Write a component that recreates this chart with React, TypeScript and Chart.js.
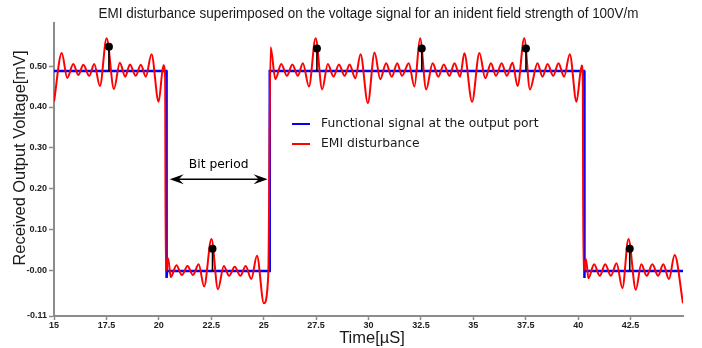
import React, { useEffect, useRef } from "react";
import { Chart, registerables } from "chart.js";

Chart.register(...registerables);

const TITLE = "EMI disturbance superimposed on the voltage signal for an inident field strength of 100V/m";
const X_TITLE = "Time[\u00B5S]";
const Y_TITLE = "Received Output Voltage[mV]";
const LEGEND_LABELS = ["Functional signal at the output port", "EMI disturbance"];
const BIT_LABEL = "Bit period";

const xTicks = [15, 17.5, 20, 22.5, 25, 27.5, 30, 32.5, 35, 37.5, 40, 42.5];
const xTickLabels = ["15", "17.5", "20", "22.5", "25", "27.5", "30", "32.5", "35", "37.5", "40", "42.5"];
const yTicks = [-0.11, 0, 0.1, 0.2, 0.3, 0.4, 0.5];
const yTickLabels = ["-0.11", "-0.00", "0.10", "0.20", "0.30", "0.40", "0.50"];

// Functional (blue) signal
const signalTime = [15, 20.36, 20.37, 20.39, 25.27, 25.29, 40.28, 40.29, 40.31, 45];
const signalVoltage = [0.488, 0.488, -0.017, 0, 0, 0.488, 0.488, -0.017, 0, 0];

// EMI disturbance (red), extrema
const emiTime = [
  15.0, 15.37, 15.63, 15.92, 16.16, 16.4, 16.68, 16.92, 17.19, 17.51, 17.86, 18.14, 18.4, 18.62, 18.9, 19.14, 19.38, 19.65, 19.99, 20.22, 20.3, 20.33,
  20.44, 20.57, 20.84, 21.1, 21.37, 21.63, 21.9, 22.16, 22.51, 22.82, 23.1, 23.35, 23.62, 23.89, 24.14, 24.41, 24.68, 25.01, 25.22, 25.33,
  25.56, 25.84, 26.11, 26.37, 26.63, 26.87, 27.16, 27.48, 27.79, 28.06, 28.33, 28.59, 28.86, 29.1, 29.37, 29.62, 29.97, 30.29,
  30.56, 30.84, 31.11, 31.37, 31.6, 31.92, 32.19, 32.46, 32.75, 33.06, 33.33, 33.59, 33.86, 34.1, 34.37, 34.57, 34.94, 35.29,
  35.57, 35.84, 36.08, 36.35, 36.6, 36.87, 37.11, 37.43, 37.7, 38.06, 38.3, 38.54, 38.81, 39.06, 39.33, 39.6, 39.92, 40.17, 40.22, 40.25,
  40.37, 40.49, 40.76, 41.03, 41.29, 41.56, 41.83, 42.11, 42.4, 42.75, 43.01, 43.27, 43.54, 43.81, 44.06, 44.33, 44.6, 45.0,
];
const emiVoltage = [
  0.413, 0.532, 0.471, 0.505, 0.478, 0.503, 0.476, 0.505, 0.451, 0.568, 0.444, 0.508, 0.474, 0.504, 0.476, 0.503, 0.474, 0.529, 0.413, 0.502, 0.47, 0.0,
  0.031, -0.015, 0.014, -0.01, 0.012, -0.01, 0.016, -0.038, 0.078, -0.045, 0.012, -0.012, 0.01, -0.012, 0.012, -0.02, 0.037, -0.079, -0.01, 0.546,
  0.468, 0.505, 0.476, 0.504, 0.476, 0.507, 0.45, 0.568, 0.443, 0.505, 0.474, 0.504, 0.476, 0.504, 0.47, 0.529, 0.41, 0.533,
  0.468, 0.507, 0.474, 0.507, 0.476, 0.507, 0.45, 0.568, 0.443, 0.507, 0.474, 0.504, 0.476, 0.507, 0.474, 0.531, 0.413, 0.532,
  0.47, 0.507, 0.476, 0.507, 0.476, 0.508, 0.451, 0.568, 0.443, 0.507, 0.474, 0.505, 0.476, 0.507, 0.474, 0.529, 0.413, 0.501, 0.47, 0.0,
  0.029, -0.018, 0.016, -0.012, 0.016, -0.012, 0.019, -0.042, 0.078, -0.046, 0.016, -0.012, 0.016, -0.012, 0.016, -0.02, 0.039, -0.079,
];

// Sampling markers (black dots with stems)
const markerTime = [17.62, 22.56, 27.54, 32.54, 37.51, 42.46];
const markerPeak = [0.547, 0.054, 0.543, 0.543, 0.543, 0.054];
const markerBase = [0.488, 0, 0.488, 0.488, 0.488, 0];

// Bit period annotation (data units)
const bitPeriodSpan = [20.52, 25.19];
const bitPeriodLevel = 0.224;
const bitLabelLevel = 0.259;

const TITLE_FONT = '"Liberation Sans", Arial, sans-serif';
const LEGEND_FONT = '"DejaVu Sans", Verdana, sans-serif';

const overlayPlugin = {
  id: "overlay",
  afterDraw(chart: any) {
    const { ctx, chartArea, scales } = chart;
    const x = scales.x;
    const y = scales.y;
    ctx.save();
    // Title (narrow-looking: compressed horizontally to the reference width)
    ctx.fillStyle = "#1a1a1a";
    ctx.textAlign = "center";
    ctx.textBaseline = "middle";
    ctx.font = `15.5px ${TITLE_FONT}`;
    const tw = ctx.measureText(TITLE).width;
    const sx = Math.min(1, 540 / tw);
    ctx.save();
    ctx.translate((chartArea.left + chartArea.right) / 2, 14);
    ctx.scale(sx, 1);
    ctx.fillText(TITLE, 0, 0);
    ctx.restore();

    // Y title
    ctx.save();
    ctx.translate(20, 158);
    ctx.rotate(-Math.PI / 2);
    ctx.font = `16.4px ${TITLE_FONT}`;
    ctx.fillText(Y_TITLE, 0, 0);
    ctx.restore();

    // X title
    ctx.font = `16.5px ${TITLE_FONT}`;
    ctx.fillText(X_TITLE, 372, 338);

    // Legend
    const colors = ["#0000ff", "#ff0000"];
    const lx = chartArea.left + 238;
    const ly = chartArea.top + 101;
    ctx.textAlign = "left";
    ctx.font = `12.3px ${LEGEND_FONT}`;
    LEGEND_LABELS.forEach((lab, i) => {
      const yy = ly + i * 20;
      ctx.strokeStyle = colors[i];
      ctx.lineWidth = 2;
      ctx.beginPath();
      ctx.moveTo(lx, yy);
      ctx.lineTo(lx + 18, yy);
      ctx.stroke();
      ctx.fillStyle = "#1a1a1a";
      ctx.fillText(lab, lx + 29, yy);
    });

    // Bit period arrow
    const xa = x.getPixelForValue(bitPeriodSpan[0]);
    const xb = x.getPixelForValue(bitPeriodSpan[1]);
    const ya = y.getPixelForValue(bitPeriodLevel);
    ctx.strokeStyle = "#000";
    ctx.fillStyle = "#000";
    ctx.lineWidth = 1.5;
    ctx.beginPath();
    ctx.moveTo(xa + 4, ya);
    ctx.lineTo(xb - 4, ya);
    ctx.stroke();
    const head = (tip: number, dir: number) => {
      ctx.beginPath();
      ctx.moveTo(tip, ya);
      ctx.lineTo(tip + dir * 14, ya - 5);
      ctx.lineTo(tip + dir * 9, ya);
      ctx.lineTo(tip + dir * 14, ya + 5);
      ctx.closePath();
      ctx.fill();
    };
    head(xa, 1);
    head(xb, -1);
    ctx.textAlign = "center";
    ctx.font = `12.3px ${LEGEND_FONT}`;
    ctx.fillText(BIT_LABEL, (xa + xb) / 2, y.getPixelForValue(bitLabelLevel));
    ctx.restore();
  },
};

export default function App() {
  const ref = useRef<HTMLCanvasElement | null>(null);
  useEffect(() => {
    if (!ref.current) return;
    const stems: any[] = [];
    markerTime.forEach((t, i) => {
      stems.push({ x: t, y: markerBase[i] });
      stems.push({ x: t, y: markerPeak[i] });
      stems.push({ x: t, y: null });
    });
    const chart = new Chart(ref.current, {
      type: "line",
      data: {
        datasets: [
          {
            label: LEGEND_LABELS[0],
            data: signalTime.map((t, i) => ({ x: t, y: signalVoltage[i] })),
            borderColor: "#0000ff",
            borderWidth: 2.5,
            pointRadius: 0,
            tension: 0,
            order: 3,
          },
          {
            label: LEGEND_LABELS[1],
            data: emiTime.map((t, i) => ({ x: t, y: emiVoltage[i] })),
            borderColor: "#ff0000",
            borderWidth: 2,
            pointRadius: 0,
            cubicInterpolationMode: "monotone",
            order: 2,
          },
          {
            label: "stems",
            data: stems,
            borderColor: "#000",
            borderWidth: 1.6,
            pointRadius: 0,
            spanGaps: false,
            tension: 0,
            order: 1,
          },
          {
            label: "markers",
            data: markerTime.map((t, i) => ({ x: t, y: markerPeak[i] })),
            showLine: false,
            pointRadius: 4,
            pointBackgroundColor: "#000",
            pointBorderColor: "#000",
            borderWidth: 0,
            order: 0,
          },
        ] as any,
      },
      options: {
        animation: false,
        responsive: false,
        layout: { padding: { top: 23, right: 19, left: 0, bottom: 0 } },
        plugins: { legend: { display: false }, tooltip: { enabled: false }, title: { display: false } },
        scales: {
          x: {
            type: "linear",
            min: 15,
            max: 45,
            afterBuildTicks: (s: any) => {
              s.ticks = xTicks.map((v) => ({ value: v }));
            },
            afterFit: (s: any) => {
              s.height = 32;
            },
            ticks: {
              autoSkip: false,
              maxRotation: 0,
              padding: 0,
              color: "#222",
              font: { family: '"Liberation Sans", Arial, sans-serif', size: 9, weight: "bold" },
              callback: (_v: any, i: number) => xTickLabels[i],
            },
            grid: { display: true, drawOnChartArea: false, drawTicks: true, tickLength: 4, color: "#8c8c8c", tickWidth: 1.5 },
            border: { display: true, color: "#8c8c8c", width: 2 },
          },
          y: {
            type: "linear",
            min: -0.11,
            max: 0.605,
            afterBuildTicks: (s: any) => {
              s.ticks = yTicks.map((v) => ({ value: v }));
            },
            afterFit: (s: any) => {
              s.width = 54;
            },
            ticks: {
              autoSkip: false,
              padding: 2,
              color: "#222",
              font: { family: '"Liberation Sans", Arial, sans-serif', size: 9, weight: "bold" },
              callback: (_v: any, i: number) => yTickLabels[i],
            },
            grid: { display: true, drawOnChartArea: false, drawTicks: true, tickLength: 5, color: "#8c8c8c", tickWidth: 1.5 },
            border: { display: true, color: "#8c8c8c", width: 2 },
          },
        },
      } as any,
      plugins: [overlayPlugin],
    });
    return () => chart.destroy();
  }, []);
  return (
    <div style={{ position: "fixed", left: 0, top: 0, width: 702, height: 348, background: "#fff" }}>
      <canvas ref={ref} width={702} height={348} />
    </div>
  );
}
